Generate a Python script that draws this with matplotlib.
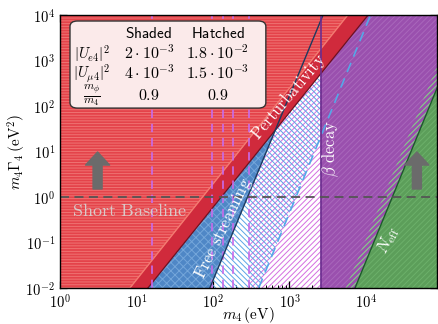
import numpy as np
import matplotlib
matplotlib.use('Agg')
import matplotlib.pyplot as plt
from matplotlib.patches import FancyBboxPatch
from matplotlib.ticker import FuncFormatter, LogLocator, NullFormatter

plt.rcParams['mathtext.fontset'] = 'cm'
plt.rcParams['font.family'] = ['DejaVu Serif']
plt.rcParams['hatch.linewidth'] = 0.7

# ---------------- data ----------------
x_range = [1.0, 8.5e4]          # m4 (eV)
y_range = [1e-2, 1e4]           # m4*Gamma4 (eV^2)
# each boundary line: m4 where it crosses y=1e-2 and y=1e4
pert_upper = [8.2, 5.8e3]
pert_lower = [14.1, 1.07e4]
fs_shaded = [91.0, 2750.0]
fs_hatched = [396.0, 1.15e4]
neff_shaded = [7.2e3, 2.1e5]
neff_hatched = [5.45e3, 1.6e5]
beta_shaded = 2570.0
beta_hatched = 298.0
sbl_dashed = [16.0, 97.0, 134.0, 181.0, 298.0]
sbl_level = 1.0

table_cols = [r'$\mathsf{Shaded}$', r'$\mathsf{Hatched}$']
table_rows = [r'$|U_{e4}|^2$', r'$|U_{\mu4}|^2$', r'$\frac{m_\phi}{m_4}$']
table_shaded = [r'$2\cdot10^{-3}$', r'$4\cdot10^{-3}$', r'$0.9$']
table_hatched = [r'$1.8\cdot10^{-2}$', r'$1.5\cdot10^{-3}$', r'$0.9$']

arrow_x = [3.1, 4.64e4]
arrow_y = [1.5, 9.75]


def line_x(bounds, y):
    l0, l1 = np.log10(bounds)
    t = (np.log10(y) - np.log10(y_range[0])) / (np.log10(y_range[1]) - np.log10(y_range[0]))
    return 10 ** (l0 + t * (l1 - l0))


fig = plt.figure(figsize=(4.38, 3.24), dpi=100)
ax = fig.add_axes([60 / 438, 1 - 288 / 324, 377 / 438, 273 / 324])
ax.set_xscale('log')
ax.set_yscale('log')

ys = np.logspace(np.log10(y_range[0]), np.log10(y_range[1]), 800)
xbig = 1e7

# hatched beta decay (magenta hatch on white)
ax.fill_betweenx(ys, beta_hatched, xbig, facecolor='none', edgecolor='#d46ee0',
                 hatch='//////', linewidth=0, zorder=1)
# hatched free streaming (blue hatch)
left = np.maximum(line_x(fs_shaded, ys), line_x(pert_lower, ys))
right = line_x(fs_hatched, ys)
ax.fill_betweenx(ys, left, right, where=right > left, interpolate=True,
                 facecolor='none', edgecolor='#5aa6e6', hatch='\\\\\\\\\\\\',
                 linewidth=0, zorder=2)
# shaded free streaming
left = line_x(pert_lower, ys)
right = line_x(fs_shaded, ys)
ax.fill_betweenx(ys, left, right, where=right > left, interpolate=True,
                 facecolor='#4f87c6', edgecolor='#74a6da', hatch='xxxx',
                 linewidth=0, zorder=3)
# shaded beta decay
ax.fill_betweenx(ys, beta_shaded, xbig, facecolor='#9a50ae', edgecolor='#a967bb',
                 hatch='//////', linewidth=0, zorder=4)
# hatched Neff band
ax.fill_betweenx(ys, line_x(neff_hatched, ys), line_x(neff_shaded, ys),
                 facecolor='none', edgecolor='#80d880', hatch='//////',
                 linewidth=0, zorder=5)
# shaded Neff
ax.fill_betweenx(ys, line_x(neff_shaded, ys), xbig, facecolor='#5c9e5a',
                 edgecolor='#6cb06a', hatch='//////', linewidth=0, zorder=6)
# perturbativity band
ax.fill_betweenx(ys, line_x(pert_upper, ys), line_x(pert_lower, ys),
                 facecolor='#d02a3c', linewidth=0, zorder=7)
# short baseline
ax.fill_betweenx(ys, 1e-3, line_x(pert_upper, ys), facecolor='#e4434a',
                 edgecolor='#ef7373', hatch='------', linewidth=0, zorder=8)

# lines
ax.plot(pert_upper, y_range, color='#f47a70', lw=1.0, zorder=9)
ax.plot(pert_lower, y_range, color='#6e1020', lw=0.9, zorder=9)
for xv in sbl_dashed:
    ax.axvline(xv, color='#c86bea', lw=1.2, dashes=(5, 3.5), zorder=10)
ax.plot(fs_shaded, y_range, color='#1d3a5f', lw=1.0, zorder=10)
ax.plot(fs_hatched, y_range, color='#55a8e8', lw=1.2, dashes=(6, 4), zorder=10)
ax.axvline(beta_shaded, color='#6b2d8f', lw=1.2, zorder=10)
ax.plot(neff_shaded, y_range, color='#1d5a2c', lw=1.0, zorder=10)
ax.axhline(sbl_level, color='#555555', lw=1.3, dashes=(5, 3), zorder=11)

# arrows
for xa in arrow_x:
    ax.annotate('', xy=(xa, arrow_y[1]), xytext=(xa, arrow_y[0]),
                arrowprops=dict(arrowstyle='simple,head_width=1.73,head_length=0.94,tail_width=0.65',
                                mutation_scale=10, color='#6b6b6b', shrinkA=0, shrinkB=0),
                zorder=12)

# region labels
ax.text(7.98, 0.49, r'$\mathrm{Short\ Baseline}$', color='#d9c9c9', fontsize=13,
        ha='center', va='center', zorder=12)
ax.text(985, 158, r'$\mathrm{Perturbativity}$', color='white', fontsize=12,
        rotation=50, ha='center', va='center', zorder=12)
ax.text(137, 0.21, r'$\mathrm{Free\ streaming}$', color='white', fontsize=12,
        rotation=64, ha='center', va='center', zorder=12)
ax.text(3480, 11.9, r'$\beta\ \mathrm{decay}$', color='white', fontsize=12,
        rotation=90, ha='center', va='center', zorder=12)
ax.text(19400, 0.113, r'$N_{\mathrm{eff}}$', color='white', fontsize=12,
        rotation=63, ha='center', va='center', zorder=12)

# table box
box = FancyBboxPatch((0.0265, 0.659), 0.5195, 0.319, transform=ax.transAxes,
                     boxstyle='round,pad=0,rounding_size=0.02', facecolor='#fbeaea',
                     edgecolor='#333333', lw=1.0, zorder=20)
ax.add_patch(box)
col_x = [0.085, 0.236, 0.418]
row_y = [0.858, 0.785, 0.705]
ax.text(col_x[1], 0.934, table_cols[0], transform=ax.transAxes, fontsize=11,
        ha='center', va='center', zorder=21)
ax.text(col_x[2], 0.934, table_cols[1], transform=ax.transAxes, fontsize=11,
        ha='center', va='center', zorder=21)
for i in range(3):
    ax.text(col_x[0], row_y[i], table_rows[i], transform=ax.transAxes,
            fontsize=10.5 if i < 2 else 12, ha='center', va='center', zorder=21)
    ax.text(col_x[1], row_y[i], table_shaded[i], transform=ax.transAxes, fontsize=11.5,
            ha='center', va='center', zorder=21)
    ax.text(col_x[2], row_y[i], table_hatched[i], transform=ax.transAxes, fontsize=11.5,
            ha='center', va='center', zorder=21)

ax.set_xlim(x_range)
ax.set_ylim(y_range)
fmt = FuncFormatter(lambda v, p: r'$10^{%d}$' % int(round(np.log10(v))))
ax.xaxis.set_major_locator(LogLocator(base=10, numticks=10))
ax.yaxis.set_major_locator(LogLocator(base=10, numticks=10))
ax.xaxis.set_major_formatter(fmt)
ax.yaxis.set_major_formatter(fmt)
ax.xaxis.set_minor_locator(LogLocator(base=10, subs=np.arange(2, 10), numticks=20))
ax.yaxis.set_minor_locator(LogLocator(base=10, subs=np.arange(2, 10), numticks=20))
ax.xaxis.set_minor_formatter(NullFormatter())
ax.yaxis.set_minor_formatter(NullFormatter())
ax.tick_params(which='both', direction='in', top=True, right=True, labelsize=10.5)
ax.tick_params(which='major', length=5, width=0.9)
ax.tick_params(which='minor', length=2.5, width=0.7)
ax.set_xlabel(r'$m_4\,(\mathrm{eV})$', fontsize=11)
ax.set_ylabel(r'$m_4\Gamma_4\,(\mathrm{eV}^2)$', fontsize=11)
ax.xaxis.set_label_coords(0.5, -0.062)
ax.yaxis.set_label_coords(-0.085, 0.5)
for s in ax.spines.values():
    s.set_linewidth(1.0)
    s.set_zorder(30)

fig.savefig('out.png', dpi=100)
